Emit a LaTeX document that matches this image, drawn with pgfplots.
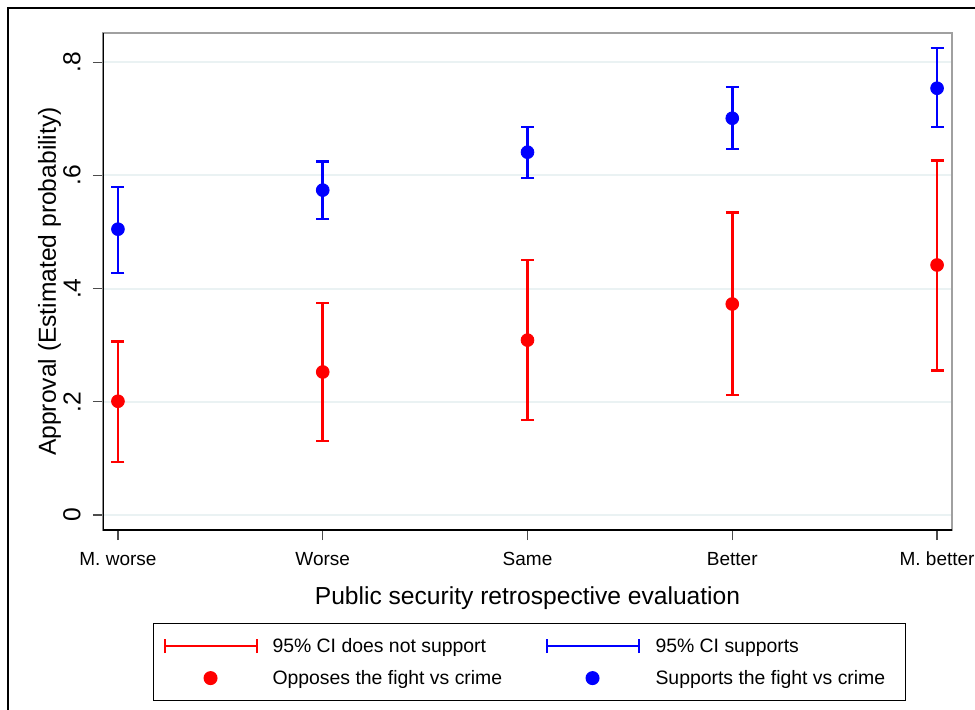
\documentclass[border=0pt]{standalone}
\usepackage{fontspec}
\setmainfont{Liberation Sans}
\usepackage{pgfplots}
\usepackage{pgfplotstable}
\pgfplotsset{compat=1.18}
\definecolor{gridc}{RGB}{234,242,243}
\definecolor{framegray}{RGB}{160,160,160}

\pgfplotsset{
  ci legend/.style={legend image code/.code={%
    \draw[##1] (0pt,-3.5pt) -- (0pt,3.5pt) (0pt,0pt) -- (46pt,0pt) (46pt,-3.5pt) -- (46pt,3.5pt);}},
  dot legend/.style={legend image code/.code={%
    \path[draw=none,fill=none] (0pt,0pt) -- (46pt,0pt); \draw[##1] plot coordinates {(23pt,0pt)};}},
}

\pgfplotstableread{
x y ep em
0 0.201 0.106 0.107
1 0.2527 0.122 0.122
2 0.309 0.1415 0.1412
3 0.3728 0.162 0.161
4 0.4417 0.185 0.186
}\redtab
\pgfplotstableread{
x y ep em
0 0.505 0.0745 0.0774
1 0.574 0.051 0.051
2 0.641 0.0445 0.046
3 0.701 0.055 0.0544
4 0.754 0.071 0.0685
}\bluetab

\begin{document}
\begin{tikzpicture}
\path[use as bounding box] (0pt,0pt) rectangle (487.5pt,-354.5pt);
\draw[line width=1pt] (4pt,-4pt) rectangle (500pt,-370pt);
\begin{axis}[
  at={(51.5pt,-265pt)}, anchor=south west,
  scale only axis, width=424.5pt, height=248.5pt,
  xmin=-0.073, xmax=4.073, ymin=-0.0265, ymax=0.8516,
  xtick={0,1,2,3,4},
  xticklabels={M. worse, Worse, Same, Better, M. better},
  ytick={0,0.2,0.4,0.6,0.8},
  yticklabels={0,.2,.4,.6,.8},
  xtick pos=bottom, ytick pos=left,
  tick align=outside, major tick length=5pt,
  tick style={black!70, line width=0.6pt},
  axis line style={framegray, line width=0.6pt},
  ymajorgrids, grid style={gridc, line width=1pt},
  xticklabel style={font=\fontsize{9.5}{11}\selectfont, yshift=-2.5pt},
  yticklabel style={font=\fontsize{12.3}{14}\selectfont, xshift=-6pt, rotate=90, anchor=south, inner sep=0pt},
  xlabel={Public security retrospective evaluation},
  ylabel={Approval (Estimated probability)},
  label style={font=\fontsize{12.3}{14}\selectfont},
  xlabel style={at={(rel axis cs:0.5,-0.149)}, anchor=base},
  ylabel style={at={(rel axis cs:-0.0554,0.5)}, anchor=base},
  legend columns=2,
  legend cell align=left,
  legend style={at={(rel axis cs:0.5024,-0.1871)}, anchor=north,
    draw=black, line width=0.6pt, column sep=0pt, row sep=5.5pt,
    inner xsep=5pt, inner ysep=6pt,
    font=\fontsize{9.7}{11}\selectfont,
    nodes={inner sep=0pt, text height=8.5pt, text depth=2pt}},
]
\addlegendimage{red, line width=1pt, ci legend}
\addlegendentry{\makebox[144pt][l]{\hspace{7.5pt}95\% CI does not support}}
\addlegendimage{blue, line width=1pt, ci legend}
\addlegendentry{\makebox[128pt][l]{\hspace{8pt}95\% CI supports}}
\addlegendimage{red, only marks, mark=*, mark size=3.2pt, dot legend}
\addlegendentry{\makebox[144pt][l]{\hspace{7.5pt}Opposes the fight vs crime}}
\addlegendimage{blue, only marks, mark=*, mark size=3.2pt, dot legend}
\addlegendentry{\makebox[128pt][l]{\hspace{8pt}Supports the fight vs crime}}

\addplot[forget plot, only marks, mark=none,
  error bars/.cd, y dir=both, y explicit,
  error bar style={red, line width=1.25pt},
  error mark options={red, line width=1.25pt, mark size=3.25pt, rotate=90}]
  table[x=x, y=y, y error plus=ep, y error minus=em] {\redtab};
\addplot[forget plot, only marks, mark=none,
  error bars/.cd, y dir=both, y explicit,
  error bar style={blue, line width=1.25pt},
  error mark options={blue, line width=1.25pt, mark size=3.25pt, rotate=90}]
  table[x=x, y=y, y error plus=ep, y error minus=em] {\bluetab};
\addplot[forget plot, only marks, mark=*, red, mark size=3.2pt] table[x=x, y=y] {\redtab};
\addplot[forget plot, only marks, mark=*, blue, mark size=3.2pt] table[x=x, y=y] {\bluetab};

\draw[black, line width=0.7pt] (rel axis cs:0,1) -- (rel axis cs:0,0) -- (rel axis cs:1,0);
\end{axis}
\end{tikzpicture}
\end{document}
